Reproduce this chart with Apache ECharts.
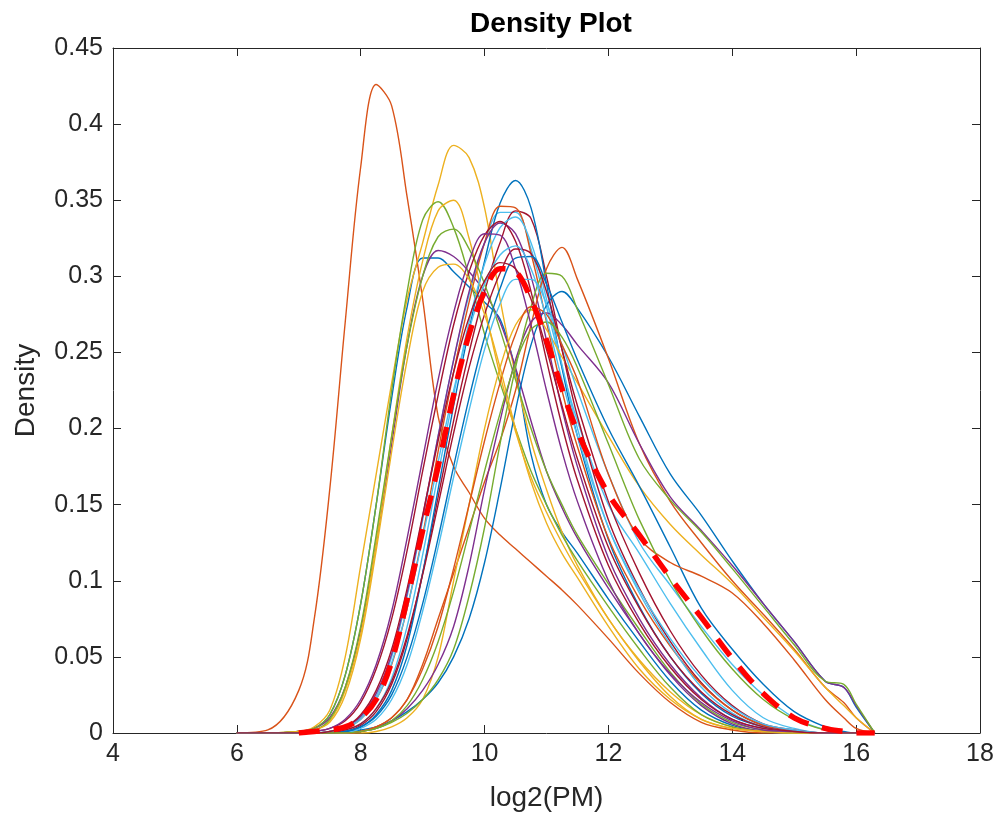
<!DOCTYPE html>
<html>
<head>
<meta charset="utf-8">
<script src="https://cdn.jsdelivr.net/npm/echarts@6/dist/echarts.min.js"></script>
<style>
html,body{margin:0;padding:0;background:#fff;}
#chart{width:999px;height:818px;}
</style>
</head>
<body>
<div id="chart"></div>
<script>
// x grid (log2(PM)) shared by every density curve
const X = [6, 6.5, 7, 7.25, 7.5, 7.75, 8, 8.25, 8.5, 8.75, 9, 9.25, 9.5, 9.75, 10, 10.25, 10.5, 10.75, 11, 11.25, 11.5, 12, 12.5, 13, 13.5, 14, 14.5, 15, 15.5, 15.8, 16, 16.3];

const blueA      = [0,0,0.001,0.003,0.012,0.038,0.085,0.15,0.22,0.28,0.312,0.312,0.303,0.293,0.283,0.272,0.238,0.183,0.15,0.132,0.118,0.088,0.06,0.034,0.015,0.005,0.001,0,0,0,0,0];
const orangeTall = [0,0.002,0.028,0.075,0.16,0.27,0.372,0.426,0.412,0.352,0.285,0.208,0.175,0.158,0.141,0.13,0.121,0.112,0.103,0.094,0.084,0.062,0.039,0.02,0.007,0.002,0,0,0,0,0,0];
const yellowA1   = [0,0,0.001,0.004,0.015,0.05,0.11,0.17,0.23,0.285,0.322,0.36,0.386,0.378,0.345,0.285,0.235,0.192,0.16,0.132,0.11,0.075,0.048,0.027,0.012,0.004,0.001,0,0,0,0,0];
const purpleA    = [0,0,0.001,0.003,0.01,0.03,0.068,0.125,0.19,0.255,0.3,0.317,0.313,0.303,0.29,0.27,0.24,0.205,0.172,0.148,0.128,0.095,0.065,0.038,0.018,0.006,0.001,0,0,0,0,0];
const greenA1    = [0,0,0.001,0.003,0.012,0.038,0.085,0.15,0.225,0.29,0.337,0.349,0.332,0.3,0.262,0.23,0.2,0.172,0.15,0.13,0.113,0.083,0.055,0.03,0.012,0.004,0.001,0,0,0,0,0];
const lightblueB1= [0,0,0,0,0.001,0.003,0.01,0.024,0.05,0.09,0.14,0.195,0.245,0.288,0.322,0.342,0.342,0.318,0.28,0.24,0.205,0.15,0.118,0.085,0.055,0.028,0.01,0.003,0,0,0,0];
const darkredB1  = [0,0,0,0,0,0.001,0.005,0.014,0.032,0.062,0.105,0.155,0.205,0.25,0.29,0.322,0.343,0.338,0.3,0.252,0.208,0.14,0.095,0.06,0.033,0.015,0.005,0.001,0,0,0,0];
const blueB1     = [0,0,0,0,0,0.001,0.004,0.012,0.028,0.058,0.105,0.16,0.215,0.265,0.31,0.348,0.363,0.345,0.295,0.24,0.195,0.127,0.083,0.05,0.026,0.011,0.004,0.001,0,0,0,0];
const orangeB1   = [0,0,0,0,0.001,0.003,0.009,0.022,0.045,0.082,0.13,0.185,0.237,0.283,0.322,0.346,0.345,0.315,0.27,0.225,0.188,0.128,0.088,0.057,0.032,0.015,0.005,0.001,0,0,0,0];
const yellowA2   = [0,0,0.001,0.002,0.008,0.028,0.065,0.125,0.195,0.26,0.31,0.343,0.35,0.325,0.28,0.235,0.198,0.168,0.145,0.125,0.107,0.075,0.047,0.024,0.009,0.003,0.001,0,0,0,0,0];
const purpleB1   = [0,0,0,0,0.001,0.004,0.011,0.026,0.052,0.092,0.142,0.195,0.245,0.29,0.322,0.335,0.328,0.3,0.258,0.213,0.175,0.115,0.075,0.045,0.023,0.009,0.003,0.001,0,0,0,0];
const greenA2    = [0,0,0.001,0.002,0.009,0.03,0.07,0.13,0.195,0.255,0.3,0.326,0.331,0.318,0.295,0.265,0.232,0.2,0.172,0.15,0.13,0.098,0.068,0.04,0.019,0.007,0.002,0,0,0,0,0];
const lightblueB2= [0,0,0,0,0,0.002,0.006,0.016,0.036,0.07,0.117,0.17,0.222,0.27,0.308,0.332,0.339,0.322,0.285,0.242,0.2,0.135,0.092,0.058,0.03,0.013,0.004,0.001,0,0,0,0];
const darkredB2  = [0,0,0,0.001,0.003,0.008,0.02,0.042,0.075,0.12,0.172,0.222,0.268,0.303,0.327,0.336,0.323,0.29,0.245,0.202,0.166,0.11,0.072,0.043,0.022,0.009,0.003,0.001,0,0,0,0];
const blueC      = [0,0,0,0,0,0.001,0.002,0.004,0.008,0.014,0.022,0.033,0.05,0.075,0.112,0.16,0.212,0.255,0.281,0.29,0.279,0.247,0.208,0.17,0.143,0.113,0.085,0.06,0.034,0.03,0.017,0];
const orangeC    = [0,0,0,0,0,0,0.001,0.004,0.01,0.022,0.045,0.075,0.105,0.135,0.165,0.192,0.225,0.268,0.305,0.319,0.298,0.246,0.19,0.152,0.125,0.1,0.078,0.055,0.03,0.02,0.01,0];
const yellowC    = [0,0,0,0,0,0,0,0.001,0.004,0.01,0.022,0.05,0.1,0.15,0.2,0.24,0.268,0.278,0.265,0.247,0.23,0.195,0.162,0.137,0.117,0.098,0.076,0.054,0.03,0.018,0.01,0];
const purpleC    = [0,0,0,0,0,0,0.001,0.003,0.008,0.016,0.028,0.045,0.07,0.11,0.16,0.205,0.245,0.27,0.276,0.268,0.255,0.23,0.19,0.155,0.133,0.11,0.085,0.06,0.034,0.03,0.018,0];
const greenC     = [0,0,0,0,0,0,0.001,0.003,0.007,0.013,0.022,0.035,0.055,0.09,0.135,0.19,0.24,0.28,0.302,0.3,0.278,0.229,0.18,0.153,0.132,0.108,0.083,0.058,0.034,0.032,0.019,0];
const lightblueB3= [0,0,0,0,0,0,0.003,0.009,0.022,0.045,0.08,0.122,0.168,0.212,0.252,0.282,0.298,0.298,0.282,0.255,0.225,0.17,0.125,0.097,0.07,0.045,0.025,0.01,0.002,0,0,0];
const darkredB3  = [0,0,0,0,0,0.002,0.006,0.016,0.034,0.064,0.104,0.15,0.197,0.24,0.275,0.302,0.318,0.315,0.29,0.252,0.215,0.152,0.105,0.067,0.038,0.018,0.006,0.002,0,0,0,0];
const blueB2     = [0,0,0,0,0,0.001,0.004,0.011,0.025,0.05,0.085,0.128,0.175,0.22,0.26,0.292,0.312,0.313,0.295,0.27,0.245,0.2,0.162,0.122,0.082,0.055,0.032,0.014,0.004,0.001,0,0];
const orangeB2   = [0,0,0,0,0,0,0.001,0.004,0.01,0.022,0.042,0.07,0.108,0.15,0.192,0.23,0.262,0.28,0.275,0.255,0.232,0.17,0.128,0.112,0.103,0.092,0.072,0.048,0.022,0.01,0.003,0];
const yellowA3   = [0,0,0.001,0.002,0.007,0.025,0.062,0.12,0.185,0.245,0.29,0.306,0.308,0.298,0.275,0.24,0.2,0.165,0.138,0.118,0.102,0.07,0.042,0.022,0.009,0.003,0.001,0,0,0,0,0];
const purpleB2   = [0,0,0,0.001,0.003,0.009,0.022,0.045,0.08,0.128,0.18,0.232,0.276,0.31,0.328,0.327,0.305,0.268,0.225,0.185,0.152,0.1,0.065,0.039,0.02,0.008,0.002,0.001,0,0,0,0];
const greenC2    = [0,0,0,0,0,0,0.001,0.003,0.008,0.018,0.035,0.06,0.093,0.132,0.172,0.21,0.243,0.265,0.27,0.26,0.24,0.19,0.14,0.1,0.068,0.042,0.022,0.009,0.002,0,0,0];
const lightblueB4= [0,0,0,0,0.001,0.003,0.009,0.022,0.046,0.082,0.128,0.178,0.225,0.265,0.295,0.314,0.32,0.305,0.272,0.232,0.195,0.135,0.094,0.062,0.036,0.017,0.006,0.002,0,0,0,0];
const darkredB4  = [0,0,0,0,0.001,0.004,0.012,0.028,0.055,0.095,0.143,0.192,0.237,0.273,0.297,0.309,0.305,0.285,0.252,0.215,0.18,0.122,0.082,0.05,0.027,0.012,0.004,0.001,0,0,0,0];

// mean (red dashed) density
const meanCurve  = [null,null,0,0.001,0.002,0.004,0.01,0.022,0.047,0.088,0.133,0.175,0.222,0.262,0.29,0.305,0.303,0.285,0.258,0.226,0.198,0.157,0.13,0.102,0.076,0.049,0.026,0.01,0.003,0.001,0,0];

const sampleCurves = [blueA, orangeTall, yellowA1, purpleA, greenA1, lightblueB1, darkredB1,
  blueB1, orangeB1, yellowA2, purpleB1, greenA2, lightblueB2, darkredB2,
  blueC, orangeC, yellowC, purpleC, greenC, lightblueB3, darkredB3,
  blueB2, orangeB2, yellowA3, purpleB2, greenC2, lightblueB4, darkredB4];

const xTicks = [4, 18, 2];
const yTicks = [0, 0.45, 0.05];

const palette = ['#0072BD','#D95319','#EDB120','#7E2F8E','#77AC30','#4DBEEE','#A2142F'];
const ink = '#262626';
const FONT = 'Liberation Sans, Arial, Helvetica, sans-serif';

const toPairs = ys => X.map((x, i) => [x, ys[i]]).filter(p => p[1] !== null);

const series = sampleCurves.map((ys, i) => ({
  type: 'line', data: toPairs(ys), showSymbol: false, smooth: 0.35,
  lineStyle: { color: palette[i % 7], width: 1.4 }, silent: true, z: 2
}));
series.push({
  type: 'line', data: toPairs(meanCurve), showSymbol: false, smooth: 0.35,
  lineStyle: { color: '#FF0000', width: 5.5, type: [21, 14] }, silent: true, z: 3
});

const axisCommon = {
  axisLine: { show: true, onZero: false, lineStyle: { color: ink, width: 1 } },
  axisTick: { show: true, inside: true, length: 8, lineStyle: { color: ink, width: 1 } },
  splitLine: { show: false }
};

const chart = echarts.init(document.getElementById('chart'), null, { renderer: 'canvas' });
chart.setOption({
  animation: false,
  backgroundColor: '#fff',
  title: {
    text: 'Density Plot', left: 546, top: 5, textAlign: 'center',
    textStyle: { fontFamily: FONT, fontWeight: 'bold', fontSize: 28, color: '#000' }
  },
  grid: { left: 113, top: 48, right: 19, bottom: 85, containLabel: false },
  xAxis: [
    Object.assign({ type: 'value', min: xTicks[0], max: xTicks[1], interval: xTicks[2], position: 'bottom',
      name: 'log2(PM)', nameLocation: 'middle', nameGap: 51,
      nameTextStyle: { fontFamily: FONT, fontSize: 28, color: ink },
      axisLabel: { fontFamily: FONT, fontSize: 25, color: ink, margin: 9 } }, axisCommon),
    Object.assign({ type: 'value', min: xTicks[0], max: xTicks[1], interval: xTicks[2], position: 'top',
      axisLabel: { show: false } }, axisCommon)
  ],
  yAxis: [
    Object.assign({ type: 'value', min: yTicks[0], max: yTicks[1], interval: yTicks[2], position: 'left',
      name: 'Density', nameLocation: 'middle', nameGap: 73, nameRotate: 90,
      nameTextStyle: { fontFamily: FONT, fontSize: 28, color: ink },
      axisLabel: { fontFamily: FONT, fontSize: 25, color: ink, margin: 10,
        formatter: v => String(Math.round(v * 100) / 100) } }, axisCommon),
    Object.assign({ type: 'value', min: yTicks[0], max: yTicks[1], interval: yTicks[2], position: 'right',
      axisLabel: { show: false } }, axisCommon)
  ],
  series: series
});
</script>
</body>
</html>
